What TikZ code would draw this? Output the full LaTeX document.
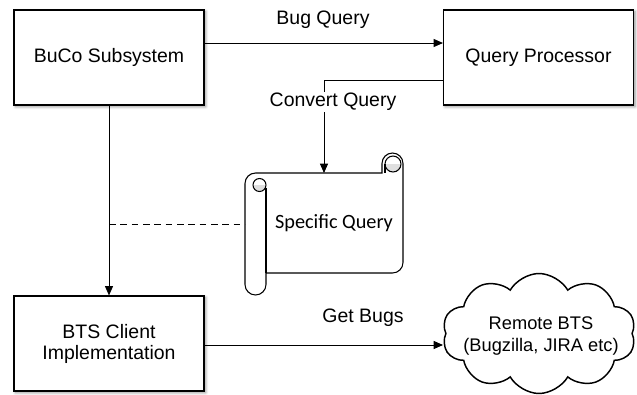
\documentclass[tikz,border=0pt]{standalone}
\usepackage{fontspec}
\setmainfont{Liberation Sans}
\newfontfamily\scrollfont{Carlito}
\usetikzlibrary{arrows.meta,calc,shadows.blur,shapes.symbols}

\tikzset{
  block/.style={draw, line width=0.8pt, fill=white, minimum width=142.5pt, minimum height=71.25pt,
    inner sep=0pt, align=center, blur shadow={shadow xshift=1.2pt, shadow yshift=-1.2pt, shadow blur steps=4, shadow opacity=45}},
  conn/.style={line width=0.7pt, -{Triangle[length=7pt,width=6pt]}},
  lbl/.style={inner sep=1pt},
}

\begin{document}
\begin{tikzpicture}[x=0.75pt, y=-0.75pt, font=\fontsize{14.6}{15.75}\selectfont]
			%%%%% START %%%%%
			\useasboundingbox (0,0) rectangle (637,394);
			
			\node[block] (buco) at (109, 57.5) {BuCo Subsystem};
			\node[block] (proc) at (538.5, 57.5) {Query Processor};
			\node[block] (client) at (109, 343.5) {BTS Client\\Implementation};
			\node[cloud, draw, line width=1.1pt, cloud puffs=10, cloud puff arc=120, aspect=1.64,
				minimum width=145pt, minimum height=90pt, inner sep=0pt]
				(remote) at (539, 333.5) {};
			\node[align=center, font=\fontsize{13.7}{16.5}\selectfont] (remotetxt) at (541, 336) {Remote BTS\\(Bugzilla, JIRA etc)};
			
			\coordinate (scrolltop) at (324, 173);
			\coordinate (scrollleft) at (245, 224);
			\coordinate (dashstart) at (109, 224);
			\coordinate (cloudleft) at (443, 345);
			
			% scroll
			\draw[line width=0.8pt, fill=white] (255.5,173) -- (382,173) -- (382,163.5) arc (180:360:10.5)
				-- (403,262.5) arc (0:90:10.5) -- (266,273) -- (266,284.5) arc (0:180:10.5)
				-- (245,183.5) arc (180:270:10.5) -- cycle;
			\draw[line width=0.8pt] (266,273) -- (266,188);
			\fill[gray!25] (259.5,185) ++(6.5,0) arc (0:180:6.5) -- cycle;
			\draw[line width=0.8pt] (259.5,185) circle (6.5);
			\fill[gray!25] (393,164) ++(8,0) arc (0:180:8) -- cycle;
			\draw[line width=0.8pt] (393,164) circle (8);
			\draw[line width=0.8pt] (385,164) -- (385,173);
			\node[font=\scrollfont\fontsize{15.2}{16}\selectfont] (spec) at (334, 223) {Specific Query};
			
			% connectors
			\draw[conn] ($(buco.east)+(0,-14.5)$) -- ($(proc.west)+(0,-14.5)$);
			\node[lbl] (bugq) at (323, 20) {Bug Query};
			\draw[conn] ($(proc.west)+(0,23)$) -| (scrolltop);
			\node[lbl, fill=white] (conv) at (333, 102) {Convert Query};
			\draw[conn] (buco.south) -- (client.north);
			\draw[line width=0.7pt, dash pattern=on 5pt off 3.5pt] (dashstart) -- (scrollleft);
			\draw[conn] (client.east |- cloudleft) -- (cloudleft);
			\node[lbl] (getb) at (363, 318) {Get Bugs};
			
			%%%%% END %%%%%
\end{tikzpicture}
\end{document}
